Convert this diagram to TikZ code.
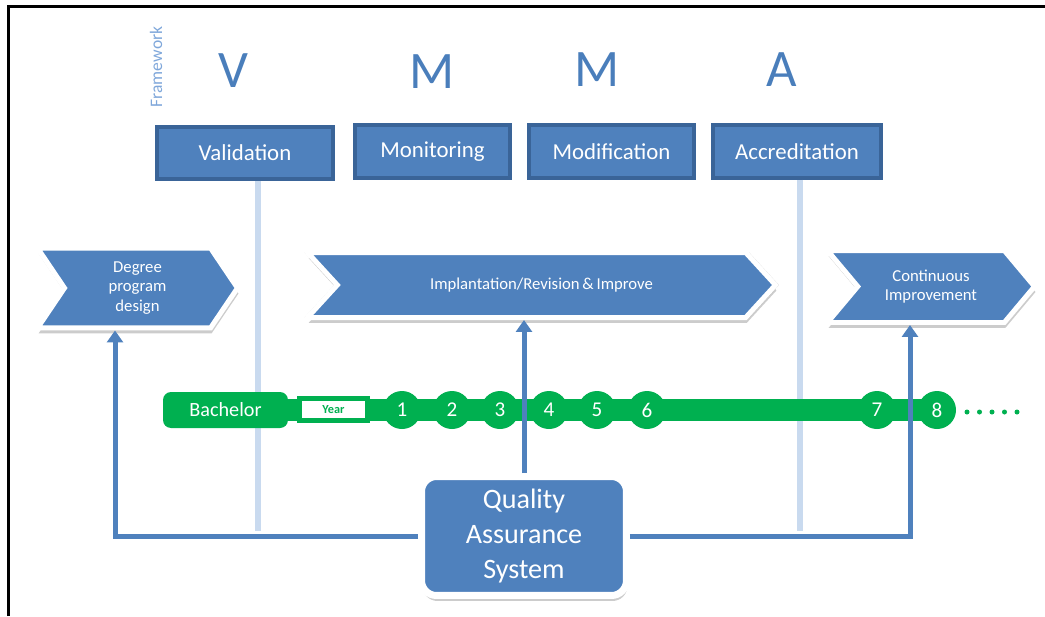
\documentclass[tikz,border=0pt]{standalone}
\usepackage{fontspec}
\setmainfont{Carlito}
\usetikzlibrary{shapes.symbols,shadows,arrows.meta}
\definecolor{qablue}{HTML}{4F81BD}
\definecolor{qaedge}{HTML}{3A6498}
\definecolor{qaletter}{HTML}{4A7EBB}
\definecolor{qaguide}{HTML}{C9DAEF}
\definecolor{qagreen}{HTML}{00B050}
\definecolor{qaframe}{HTML}{7FA7DA}

\begin{document}
\begin{tikzpicture}[x=0.02cm, y=-0.02cm,
    letter/.style={text=qaletter, font=\fontsize{30}{36}\selectfont},
    phase/.style={draw=qaedge, fill=qablue, line width=0.08cm, text=white,
        minimum height=1.06cm, inner sep=0pt, font=\fontsize{13}{15}\selectfont},
    halo/.style={general shadow={shadow scale=1.015, fill=black!18},
        drop shadow={shadow xshift=0.02cm, shadow yshift=-0.11cm, opacity=0.4}},
    stage/.style={shape=signal, signal from=west, signal to=east, fill=qablue,
        draw=white, line width=0.1cm, text=white, align=center, inner sep=0pt,
        font=\fontsize{9.5}{11}\selectfont, halo},
    guide/.style={draw=qaguide, line width=0.12cm},
    feed/.style={draw=qablue, line width=0.1cm, -{Triangle[width=0.32cm, length=0.24cm]}},
    yearnum/.style={circle, fill=qagreen, text=white, minimum size=0.76cm,
        inner sep=0pt, font=\fontsize{12}{14}\selectfont}]
    \useasboundingbox (0,0) rectangle (1045,616);
    \draw[line width=0.05cm] (8.5,616) -- (8.5,6.5) -- (1045,6.5);

    % framework letters
    \node[rotate=90, text=qaframe, font=\fontsize{10}{12}\selectfont] (fw) at (156,67) {Framework};
    \node[letter] (lv) at (233,71) {V};
    \node[letter] (lm1) at (432,72) {M};
    \node[letter] (lm2) at (597,70) {M};
    \node[letter] (la) at (782,70) {A};

    \node[phase, minimum width=3.52cm, minimum height=1.04cm] (val) at (245,153) {Validation};
    \node[phase, minimum width=3.1cm] (mon) at (432.5,151.5) {Monitoring};
    \node[phase, minimum width=3.3cm] (mod) at (611.5,151.5) {Modification};
    \node[phase, minimum width=3.36cm] (acc) at (797,151.5) {Accreditation};

    \coordinate (valfoot) at (258,531);
    \coordinate (accfoot) at (800,531);
    \draw[guide] (valfoot |- val.south) -- (valfoot);
    \draw[guide] (accfoot |- acc.south) -- (accfoot);

    % stages
    \node[stage, signal pointer angle=112, minimum width=4cm, minimum height=1.6cm] (deg) at (137.5,288) {Degree\\program\\design};
    \node[stage, signal pointer angle=95, minimum width=9.36cm, minimum height=1.3cm] (impl) at (541.5,285) {Implantation/Revision\,\&\,Improve};
    \node[stage, signal pointer angle=100, minimum width=4.14cm, minimum height=1.44cm] (cont) at (931,286.5) {Continuous\\Improvement};

    % timeline
    \node[fill=qagreen, rounded corners=0.16cm, minimum width=2.5cm, minimum height=0.72cm,
        text=white, font=\fontsize{11.5}{13}\selectfont] (bach) at (225.5,410) {Bachelor};
    \coordinate (tlend) at (937,410);
    \draw[qagreen, line width=0.44cm] (bach.east) -- (tlend);
    \node[draw=qagreen, fill=white, line width=0.1cm, minimum width=1.36cm, minimum height=0.44cm,
        inner sep=0pt, text=qagreen, font=\bfseries\fontsize{7}{8}\selectfont] (year) at (333.5,409.5) {Year};
    \foreach \n/\x in {1/402,2/452,3/500,4/549,5/597,6/647,7/877,8/937}
        \node[yearnum] (n\n) at (\x,410) {\n};
    \foreach \x in {967,979.5,992,1004.5,1017}
        \fill[qagreen] (\x,412) circle[radius=0.05cm];

    % quality assurance
    \node[fill=qablue, draw=white, line width=0.14cm, rounded corners=0.3cm,
        minimum width=4.1cm, minimum height=2.38cm, text=white, align=center,
        font=\fontsize{16}{20}\selectfont, halo] (qas) at (524,536) {Quality\\Assurance\\System};
    \coordinate (degfoot) at (115,536);
    \coordinate (contfoot) at (910,536);
    \draw[feed] (qas.west) -- (degfoot) -- (degfoot |- deg.south);
    \draw[feed] (qas.east) -- (contfoot) -- (contfoot |- cont.south);
    \draw[feed] (qas.north) -- (qas.north |- impl.south);
\end{tikzpicture}
\end{document}
